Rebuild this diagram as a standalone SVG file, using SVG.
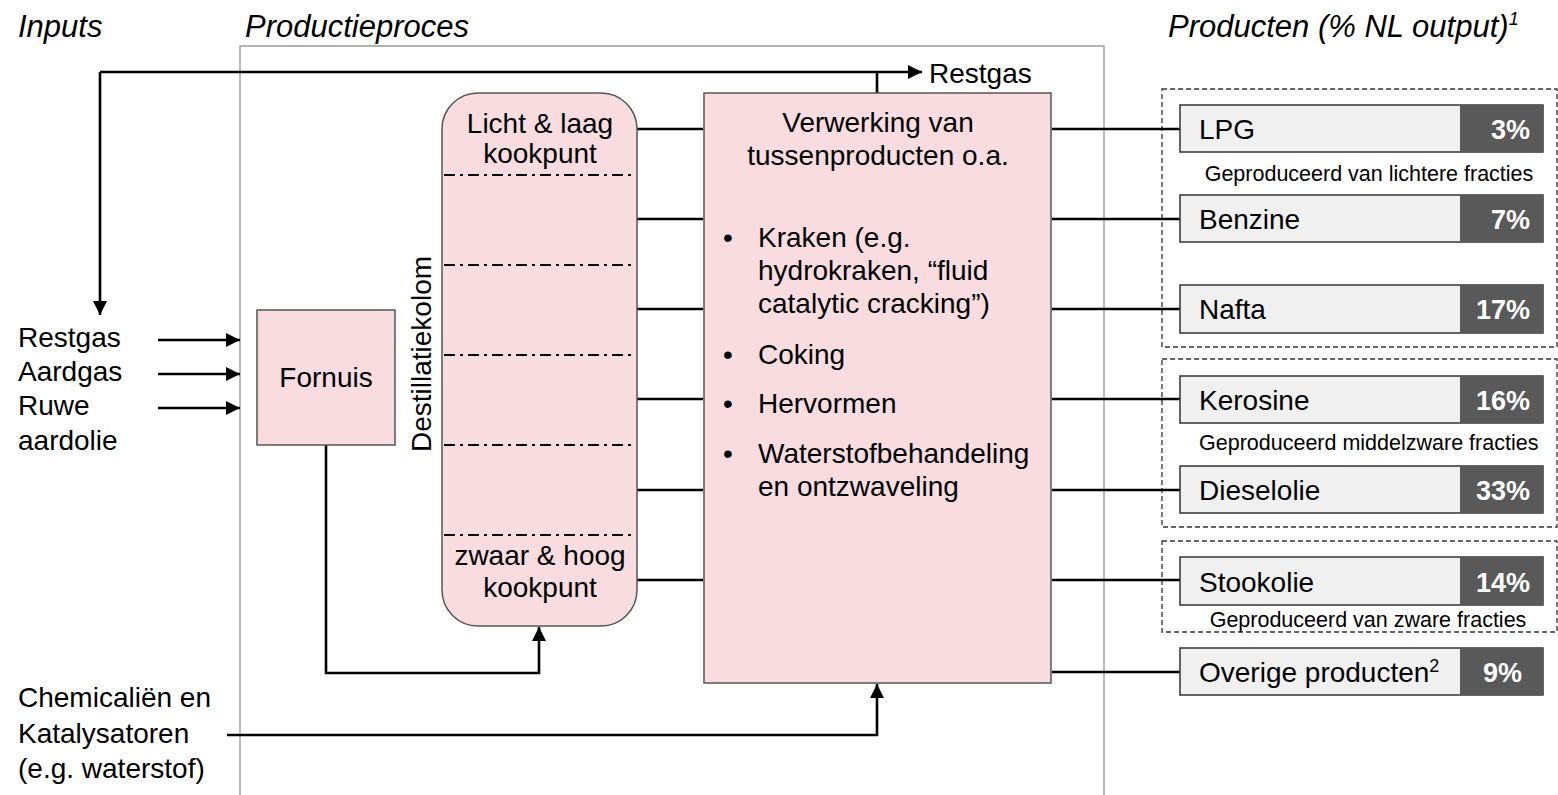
<svg xmlns="http://www.w3.org/2000/svg" width="1558" height="795" viewBox="0 0 1558 795">
<defs>
<marker id="ah" viewBox="0 0 10 10" refX="10" refY="5" markerWidth="15" markerHeight="14" markerUnits="userSpaceOnUse" orient="auto-start-reverse">
<path d="M0,0 L10,5 L0,10 Z" fill="#000"/>
</marker>
</defs>
<style>
text{font-family:"Liberation Sans",Arial,sans-serif;fill:#000}
.t{font-size:28px}
.title{font-size:31px;font-style:italic}
.sub{font-size:21.5px}
.pct{font-size:27px;font-weight:bold;fill:#fff;text-anchor:end}
.pink{fill:#F8DCE0;stroke:#555;stroke-width:1.5}
.ln{fill:none;stroke:#000;stroke-width:2.6}
.arr{fill:none;stroke:#000;stroke-width:2.6;marker-end:url(#ah)}
.dd{fill:none;stroke:#000;stroke-width:2.2;stroke-dasharray:11 5 3 5}
.grp{fill:none;stroke:#333;stroke-width:1.3;stroke-dasharray:5 3}
.pb{fill:#F0F0F0;stroke:#333;stroke-width:1.5}
.pd{fill:#595959}
.c{text-anchor:middle}
</style>
<rect width="1558" height="795" fill="#fff"/>

<g id="titles">
<text class="title" x="18" y="37">Inputs</text>
<text class="title" x="245" y="37">Productieproces</text>
<text class="title" x="1168" y="37">Producten (% NL output)<tspan font-size="18" dy="-12">1</tspan></text>
</g>

<g id="frame">
<path d="M240,800 L240,46 L1104,46 L1104,800" fill="none" stroke="#999" stroke-width="1.3"/>
</g>

<g id="groups">
<rect class="grp" x="1162" y="89" width="395" height="258"/>
<rect class="grp" x="1162" y="359" width="395" height="168"/>
<rect class="grp" x="1162" y="541" width="395" height="91"/>
</g>

<g id="connectors">
<!-- Restgas recycle -->
<path class="ln" d="M877,93 L877,72"/>
<path class="arr" d="M100,72 L922,72"/>
<path class="arr" d="M100,72 L100,315"/>
<!-- inputs to furnace -->
<path class="arr" d="M158,340 L240,340"/>
<path class="arr" d="M158,374 L240,374"/>
<path class="arr" d="M158,408 L240,408"/>
<!-- furnace to column -->
<path class="arr" d="M326,445 L326,673 L539,673 L539,627"/>
<!-- internal column arrow -->
<path class="arr" d="M539,350 L539,197"/>
<path class="arr" d="M539,350 L539,498"/>
<!-- column to processing -->
<path class="ln" d="M637,129 L703,129 M637,219 L703,219 M637,309 L703,309 M637,399 L703,399 M637,490 L703,490 M637,580 L703,580"/>
<!-- processing to products -->
<path class="ln" d="M1052,129 L1180,129 M1052,219 L1180,219 M1052,309 L1180,309 M1052,399 L1180,399 M1052,490 L1180,490 M1052,580 L1180,580 M1052,672 L1180,672"/>
<!-- chemicals -->
<path class="arr" d="M227,735 L877,735 L877,684"/>
</g>
<text id="restgas-out" class="t" x="929" y="83">Restgas</text>

<g id="inputs">
<text class="t" x="18" y="347">Restgas</text>
<text class="t" x="18" y="381">Aardgas</text>
<text class="t" x="18" y="415">Ruwe</text>
<text class="t" x="18" y="450">aardolie</text>
<text class="t" x="18" y="707">Chemicaliën en</text>
<text class="t" x="18" y="743">Katalysatoren</text>
<text class="t" x="18" y="778">(e.g. waterstof)</text>
</g>

<g id="fornuis">
<rect class="pink" x="257" y="310" width="138" height="135"/>
<text class="t c" x="326" y="387">Fornuis</text>
</g>

<g id="destillatiekolom">
<rect class="pink" x="442" y="93" width="195" height="533" rx="36" ry="36"/>
<path class="dd" d="M444,175 L636,175 M444,265 L636,265 M444,355 L636,355 M444,445 L636,445 M444,535 L636,535"/>
<text class="t c" x="540" y="133">Licht &amp; laag</text>
<text class="t c" x="540" y="163">kookpunt</text>
<text class="t c" x="540" y="565">zwaar &amp; hoog</text>
<text class="t c" x="540" y="597">kookpunt</text>
<text class="t c" transform="translate(431,354) rotate(-90)">Destillatiekolom</text>
</g>

<g id="verwerking">
<rect class="pink" x="704" y="93" width="347" height="590"/>
<text class="t c" x="878" y="132">Verwerking van</text>
<text class="t c" x="878" y="165">tussenproducten o.a.</text>
<text class="t" x="723" y="247">•</text><text class="t" x="758" y="247">Kraken (e.g.</text>
<text class="t" x="758" y="280">hydrokraken, “fluid</text>
<text class="t" x="758" y="313">catalytic cracking”)</text>
<text class="t" x="723" y="364">•</text><text class="t" x="758" y="364">Coking</text>
<text class="t" x="723" y="413">•</text><text class="t" x="758" y="413">Hervormen</text>
<text class="t" x="723" y="463">•</text><text class="t" x="758" y="463">Waterstofbehandeling</text>
<text class="t" x="758" y="496">en ontzwaveling</text>
</g>

<g id="lpg">
<rect class="pb" x="1180" y="105" width="363" height="47"/><rect class="pd" x="1460" y="105" width="83" height="47"/>
<text class="t" x="1199" y="139">LPG</text><text class="pct" x="1530" y="139">3%</text>
</g>
<text class="sub c" x="1369" y="181">Geproduceerd van lichtere fracties</text>
<g id="benzine">
<rect class="pb" x="1180" y="195" width="363" height="47"/><rect class="pd" x="1460" y="195" width="83" height="47"/>
<text class="t" x="1199" y="229">Benzine</text><text class="pct" x="1530" y="229">7%</text>
</g>
<g id="nafta">
<rect class="pb" x="1180" y="285" width="363" height="48"/><rect class="pd" x="1460" y="285" width="83" height="48"/>
<text class="t" x="1199" y="319">Nafta</text><text class="pct" x="1530" y="319">17%</text>
</g>
<g id="kerosine">
<rect class="pb" x="1180" y="376" width="363" height="47"/><rect class="pd" x="1460" y="376" width="83" height="47"/>
<text class="t" x="1199" y="410">Kerosine</text><text class="pct" x="1530" y="410">16%</text>
</g>
<text class="sub" x="1199" y="450">Geproduceerd middelzware fracties</text>
<g id="dieselolie">
<rect class="pb" x="1180" y="466" width="363" height="47"/><rect class="pd" x="1460" y="466" width="83" height="47"/>
<text class="t" x="1199" y="500">Dieselolie</text><text class="pct" x="1530" y="500">33%</text>
</g>
<g id="stookolie">
<rect class="pb" x="1180" y="557" width="363" height="48"/><rect class="pd" x="1460" y="557" width="83" height="48"/>
<text class="t" x="1199" y="592">Stookolie</text><text class="pct" x="1530" y="592">14%</text>
</g>
<text class="sub c" x="1368" y="627">Geproduceerd van zware fracties</text>
<g id="overige">
<rect class="pb" x="1180" y="648" width="363" height="47"/><rect class="pd" x="1460" y="648" width="83" height="47"/>
<text class="t" x="1199" y="682">Overige producten<tspan font-size="18" dy="-10">2</tspan></text><text class="pct" x="1522" y="682">9%</text>
</g>
</svg>
